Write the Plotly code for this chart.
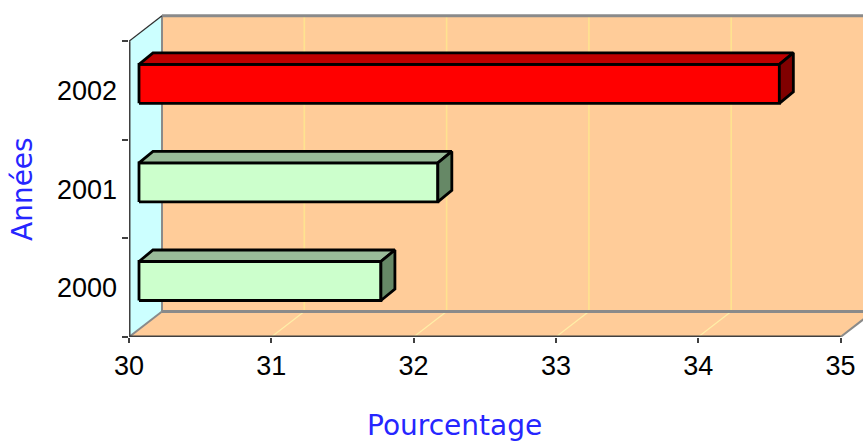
import plotly.graph_objects as go

# ---- data ----
YEARS = ["2000", "2001", "2002"]
VALUES = [31.7, 32.1, 34.5]
FRONT_COLORS = ["#CCFFCC", "#CCFFCC", "#FF0000"]
TOP_COLORS = ["#99BB99", "#99BB99", "#C00000"]
SIDE_COLORS = ["#668866", "#668866", "#800000"]
X_TICKS = [30, 31, 32, 33, 34, 35]
X_TITLE = "Pourcentage"
Y_TITLE = "Années"

# ---- geometry ----
W, H = 863, 443
ML, MR, MT, MB = 129, 0, 12, 106
PX = 142.3          # pixels per percent
PY = 98.6           # pixels per category
plot_w = W - ML - MR
plot_h = H - MT - MB
X0 = X_TICKS[0]
X1 = X_TICKS[-1]
Y0 = -0.5
YT = len(YEARS) - 0.5
XR = [X0, X0 + plot_w / PX]
YR = [Y0, Y0 + plot_h / PY]

DX = 33 / PX        # wall depth
DY = 25.5 / PY
FX = 10 / PX        # bar front-plane shift
FY = 6.7 / PY
BH = 19.5 / PY      # bar half height
BX = 14 / PX        # bar depth
BY = 11.5 / PY

fig = go.Figure()


def poly(xs, ys, fill, lc=None, lw=0):
    fig.add_trace(go.Scatter(
        x=list(xs) + [xs[0]], y=list(ys) + [ys[0]], mode="lines",
        fill="toself", fillcolor=fill,
        line=dict(color=lc or fill, width=lw if lw else 0.1),
        hoverinfo="skip", showlegend=False))


def seg(xs, ys, color, width):
    fig.add_trace(go.Scatter(
        x=xs, y=ys, mode="lines", line=dict(color=color, width=width),
        hoverinfo="skip", showlegend=False))


XW = X1 + DX
# back wall
poly([X0 + DX, XW, XW, X0 + DX], [Y0 + DY, Y0 + DY, YT + DY, YT + DY], "#FFCC99")
# floor
poly([X0, X1, X1 + DX, X0 + DX], [Y0, Y0, Y0 + DY, Y0 + DY], "#FFCC99")
# side wall
poly([X0, X0, X0 + DX, X0 + DX], [Y0, YT, YT + DY, Y0 + DY], "#CCFFFF")

# gridlines on wall and floor
for t in X_TICKS[1:]:
    seg([t + DX, t + DX], [Y0 + DY, YT + DY], "#FFE38F", 1.6)
    seg([t, t + DX], [Y0, Y0 + DY], "#FFEFA8", 1.2)

GRAY = "#8A8A8A"
seg([X0 + DX, XW], [YT + DY, YT + DY], GRAY, 3)
seg([X0 + DX, X0 + DX], [Y0 + DY, YT + DY], GRAY, 2)
seg([X0 + DX, XW], [Y0 + DY, Y0 + DY], GRAY, 3)
seg([X0, X0 + DX], [YT, YT + DY], "#303030", 1.3)
seg([X0, X0 + DX], [Y0, Y0 + DY], GRAY, 2)
seg([X1, X1 + DX], [Y0, Y0 + DY], GRAY, 2)

# axis lines
seg([X0, X1], [Y0, Y0], "#404040", 3)
seg([X0, X0], [Y0, YT], "#404040", 3)

# 3D bars
for i, v in enumerate(VALUES):
    xl, xr = X0 + FX, v + FX
    yb, yt = i + FY - BH, i + FY + BH
    poly([xl, xr, xr, xl], [yb, yb, yt, yt], FRONT_COLORS[i], "#000000", 2.8)
    poly([xl, xr, xr + BX, xl + BX], [yt, yt, yt + BY, yt + BY], TOP_COLORS[i], "#000000", 2.8)
    poly([xr, xr + BX, xr + BX, xr], [yb, yb + BY, yt + BY, yt], SIDE_COLORS[i], "#000000", 2.8)

fig.update_layout(
    width=W, height=H,
    margin=dict(l=ML, r=MR, t=MT, b=MB, pad=0),
    paper_bgcolor="white", plot_bgcolor="white",
    showlegend=False,
    xaxis=dict(range=XR, tickmode="array", tickvals=X_TICKS,
               ticktext=[str(t) for t in X_TICKS],
               ticks="outside", ticklen=5, tickwidth=1.5, tickcolor="#404040",
               showgrid=False, zeroline=False, showline=False,
               ticklabelstandoff=0,
               tickfont=dict(family="Liberation Sans, Arial, sans-serif", size=27, color="black")),
    yaxis=dict(range=YR, tickmode="array", tickvals=list(range(len(YEARS))),
               ticktext=YEARS, ticks="",
               minor=dict(tickmode="array",
                          tickvals=[k - 0.5 for k in range(len(YEARS) + 1)],
                          ticks="outside", ticklen=6, tickwidth=1.5,
                          tickcolor="#404040", showgrid=False),
               showgrid=False, zeroline=False, showline=False,
               ticklabelstandoff=11,
               tickfont=dict(family="Liberation Sans, Arial, sans-serif", size=27, color="black")),
    annotations=[
        dict(text=X_TITLE, xref="paper", yref="paper", x=(454 - ML) / plot_w, y=0,
             xanchor="center", yanchor="middle", yshift=-(425 - (H - MB)),
             showarrow=False,
             font=dict(family="DejaVu Sans, sans-serif", size=28, color="#2626FF")),
        dict(text=Y_TITLE, xref="paper", yref="paper", x=0,
             y=((H - MB) - 189) / plot_h, xanchor="center", yanchor="middle",
             xshift=-(ML - 22), textangle=-90, showarrow=False,
             font=dict(family="DejaVu Sans, sans-serif", size=28, color="#2626FF")),
    ],
)

fig.write_html("out.html", config={"displayModeBar": False},
               post_script="document.body.style.margin='0';document.body.style.overflow='hidden';")
